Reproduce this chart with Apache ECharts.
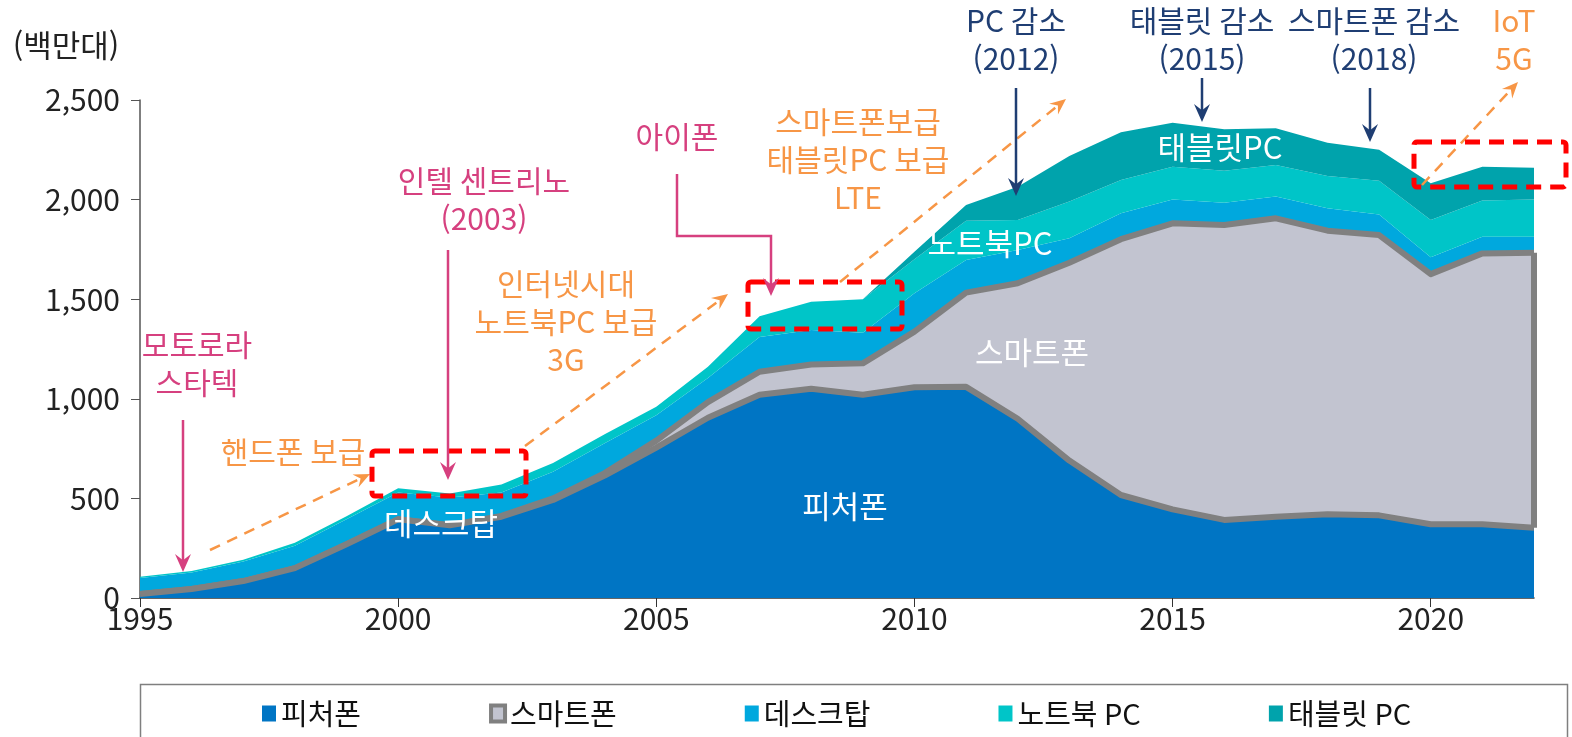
<!DOCTYPE html>
<html lang="ko">
<head>
    <meta charset="UTF-8">
    <title>기기별 출하량</title>
    <script src="https://cdn.jsdelivr.net/npm/echarts@6/dist/echarts.min.js"></script>
    <style>
        html, body { margin: 0; padding: 0; background: #fff; }
        #main { width: 1572px; height: 737px; }
    </style>
</head>
<body>
<div id="main"></div>
<script type="text/javascript">
    // 데이터 (백만대)
    var years        = ['1995','1996','1997','1998','1999','2000','2001','2002','2003','2004','2005','2006','2007','2008','2009','2010','2011','2012','2013','2014','2015','2016','2017','2018','2019','2020','2021','2022'];
    var featurePhone = [20,45,85,150,270,395,365,408,492,615,755,905,1020,1050,1020,1058,1060,900,690,517,445,392,408,420,415,370,370,353];
    var smartPhone   = [0,0,0,0,0,0,0,4,8,12,35,78,116,122,158,279,473,680,993,1284,1436,1480,1498,1424,1407,1256,1360,1380];
    var desktop      = [80,83,98,112,125,135,140,118,134,150,128,121,174,173,154,193,164,167,123,130,120,112,109,112,103,84,84,81];
    var notebook     = [7,7,9,15,16,21,20,40,44,45,42,57,105,142,168,170,197,151,184,167,164,161,159,162,170,188,181,186];
    var tablet       = [0,0,0,0,0,0,0,0,0,0,0,0,0,0,0,38,79,167,229,240,221,208,184,168,155,184,170,160];
    var xTicks = ['1995','2000','2005','2010','2015','2020'];

    var FONT = '"Noto Sans CJK KR", "Noto Sans", sans-serif';
    var PINK = '#D6407F', ORANGE = '#F79646', NAVY = '#1F3E73', RED = '#FF0000';

    var myChart = echarts.init(document.getElementById('main'));

    // 화살표 머리
    function head(x1, y1, x2, y2, color, len, wid) {
        var dx = x2 - x1, dy = y2 - y1, d = Math.sqrt(dx * dx + dy * dy);
        var ux = dx / d, uy = dy / d, nx = -uy, ny = ux;
        return {
            type: 'polygon', z: 100,
            shape: { points: [
                [x2, y2],
                [x2 - ux * len + nx * wid / 2, y2 - uy * len + ny * wid / 2],
                [x2 - ux * len * 0.65, y2 - uy * len * 0.65],
                [x2 - ux * len - nx * wid / 2, y2 - uy * len - ny * wid / 2]
            ] },
            style: { fill: color }
        };
    }
    function arrow(x1, y1, x2, y2, color, dashed) {
        var len = dashed ? 16 : 18, wid = dashed ? 14 : 16;
        var dx = x2 - x1, dy = y2 - y1, d = Math.sqrt(dx * dx + dy * dy);
        return [{
            type: 'line', z: 100,
            shape: { x1: x1, y1: y1, x2: x2 - dx / d * len * 0.6, y2: y2 - dy / d * len * 0.6 },
            style: { stroke: color, lineWidth: 2.5, lineDash: dashed ? [11, 8] : null }
        }, head(x1, y1, x2, y2, color, len, wid)];
    }
    function label(x, y, text, color, size) {
        return {
            type: 'text', z: 100, x: x, y: y,
            style: { text: text, fill: color, font: (size || 30) + 'px ' + FONT,
                     textAlign: 'center', textVerticalAlign: 'middle', lineHeight: 38 }
        };
    }
    function box(x, y, w, h) {
        return {
            type: 'rect', z: 100,
            shape: { x: x, y: y, width: w, height: h, r: 3 },
            style: { fill: 'none', stroke: RED, lineWidth: 5, lineDash: [15, 9] }
        };
    }

    var graphics = [];
    graphics.push(label(66, 45, '(백만대)', '#222', 31));
    // 왼쪽 주석
    graphics.push(label(197, 364, '모토로라\n스타텍', PINK));
    graphics = graphics.concat(arrow(183, 420, 183, 572, PINK, false));
    graphics.push(label(293, 452, '핸드폰 보급', ORANGE));
    graphics = graphics.concat(arrow(210, 550, 370, 474, ORANGE, true));
    graphics.push(box(372, 451, 154, 45));
    graphics.push(label(484, 200, '인텔 센트리노\n(2003)', PINK));
    graphics = graphics.concat(arrow(448, 250, 448, 480, PINK, false));
    graphics.push(label(566, 322, '인터넷시대\n노트북PC 보급\n3G', ORANGE));
    graphics = graphics.concat(arrow(525, 446, 728, 294, ORANGE, true));
    graphics.push(box(748, 282, 154, 47));
    // 아이폰
    graphics.push(label(677, 137, '아이폰', PINK));
    graphics.push({
        type: 'polyline', z: 100,
        shape: { points: [[677, 174], [677, 236], [771, 236], [771, 285]] },
        style: { stroke: PINK, lineWidth: 2.5, fill: null }
    });
    graphics.push(head(771, 236, 771, 296, PINK, 18, 16));
    graphics.push(label(858, 160, '스마트폰보급\n태블릿PC 보급\nLTE', ORANGE));
    graphics = graphics.concat(arrow(840, 282, 1066, 99, ORANGE, true));
    // 상단 주석
    graphics.push(label(1016, 40, 'PC 감소\n(2012)', NAVY));
    graphics = graphics.concat(arrow(1016, 88, 1016, 196, NAVY, false));
    graphics.push(label(1202, 40, '태블릿 감소\n(2015)', NAVY));
    graphics = graphics.concat(arrow(1202, 78, 1202, 122, NAVY, false));
    graphics.push(label(1374, 40, '스마트폰 감소\n(2018)', NAVY));
    graphics = graphics.concat(arrow(1370, 88, 1370, 142, NAVY, false));
    graphics.push(label(1514, 40, 'IoT\n5G', ORANGE));
    graphics = graphics.concat(arrow(1422, 185, 1518, 82, ORANGE, true));
    graphics.push(box(1414, 142, 152, 45));
    // 영역 안 라벨
    graphics.push(label(441, 523, '데스크탑', '#fff', 31));
    graphics.push(label(845, 506, '피처폰', '#fff', 31));
    graphics.push(label(1032, 352, '스마트폰', '#fff', 31));
    graphics.push(label(990, 243, '노트북PC', '#fff', 31));
    graphics.push(label(1220, 147, '태블릿PC', '#fff', 31));
    // 범례 테두리
    graphics.push({
        type: 'rect', z: 1,
        shape: { x: 140.5, y: 684.5, width: 1427, height: 70 },
        style: { fill: 'none', stroke: '#7F7F7F', lineWidth: 1.5 }
    });

    var last = years.length - 1;
    function onTick(idx, val) { return xTicks.indexOf(String(val)) >= 0 || xTicks.indexOf(years[idx]) >= 0; }

    var option = {
        animation: false,
        grid: { left: 140, right: 38, top: 100, bottom: 139 },
        legend: {
            left: 257, top: 694,
            icon: 'rect', itemWidth: 14, itemHeight: 16, itemGap: 128,
            textStyle: { fontSize: 29, fontFamily: FONT, color: '#111' },
            data: [
                { name: '피처폰', itemStyle: { color: '#0075C4', borderWidth: 0 } },
                { name: '스마트폰', itemStyle: { color: '#C2C4D0', borderColor: '#808080', borderWidth: 4 } },
                { name: '데스크탑', itemStyle: { color: '#00A8DE', borderWidth: 0 } },
                { name: '노트북 PC', itemStyle: { color: '#00C5C8', borderWidth: 0 } },
                { name: '태블릿 PC', itemStyle: { color: '#00A3AC', borderWidth: 0 } }
            ]
        },
        xAxis: {
            type: 'category', boundaryGap: false, data: years,
            axisLine: { lineStyle: { color: '#333', width: 1.5 } },
            axisTick: { show: true, length: 9, interval: onTick, lineStyle: { color: '#333' } },
            axisLabel: { interval: onTick, fontSize: 30, fontFamily: FONT, color: '#222', margin: 6 },
            splitLine: { show: false }
        },
        yAxis: {
            type: 'value', min: 0, max: 2500, interval: 500,
            axisLine: { show: true, lineStyle: { color: '#555', width: 1.5 } },
            axisTick: { show: true, length: 9, lineStyle: { color: '#555' } },
            axisLabel: {
                fontSize: 30, fontFamily: FONT, color: '#222', margin: 20,
                formatter: function (v) { return v.toLocaleString('en-US'); }
            },
            splitLine: { show: false }
        },
        graphic: graphics,
        series: [
            {
                name: '피처폰', type: 'line', stack: 'all', z: 4,
                symbol: 'none', data: featurePhone,
                itemStyle: { color: '#0075C4' },
                lineStyle: { color: '#808080', width: 6, join: 'round' },
                areaStyle: { color: '#0075C4', opacity: 1 }
            },
            {
                name: '스마트폰', type: 'line', stack: 'all', z: 3,
                symbol: 'none', data: smartPhone,
                itemStyle: { color: '#C2C4D0' },
                lineStyle: { color: '#808080', width: 6, join: 'round' },
                areaStyle: { color: '#C2C4D0', opacity: 1 },
                markLine: {
                    silent: true, symbol: 'none', label: { show: false },
                    lineStyle: { color: '#808080', width: 6, type: 'solid' },
                    data: [[
                        { coord: [years[last], featurePhone[last]] },
                        { coord: [years[last], featurePhone[last] + smartPhone[last]] }
                    ]]
                }
            },
            {
                name: '데스크탑', type: 'line', stack: 'all', z: 2,
                symbol: 'none', data: desktop,
                itemStyle: { color: '#00A8DE' },
                lineStyle: { width: 0 },
                areaStyle: { color: '#00A8DE', opacity: 1 }
            },
            {
                name: '노트북 PC', type: 'line', stack: 'all', z: 2,
                symbol: 'none', data: notebook,
                itemStyle: { color: '#00C5C8' },
                lineStyle: { width: 0 },
                areaStyle: { color: '#00C5C8', opacity: 1 }
            },
            {
                name: '태블릿 PC', type: 'line', stack: 'all', z: 2,
                symbol: 'none', data: tablet,
                itemStyle: { color: '#00A3AC' },
                lineStyle: { width: 0 },
                areaStyle: { color: '#00A3AC', opacity: 1 }
            }
        ]
    };

    myChart.setOption(option);
</script>
</body>
</html>
